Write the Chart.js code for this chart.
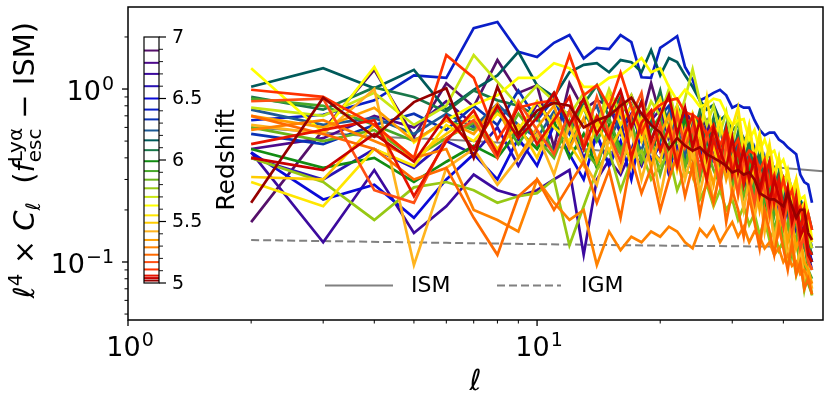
<!DOCTYPE html>
<html><head><meta charset="utf-8">
<script src="https://cdn.jsdelivr.net/npm/chart.js@4/dist/chart.umd.min.js"></script>
<style>html,body{margin:0;padding:0;background:#fff}#wrap{width:829px;height:397px;position:relative}</style>
</head><body><div id="wrap"><canvas id="c"></canvas></div>
<script>
// multipole values
const ells = [2,3,4,5,6,7,8,9,10,11,12,13,14,15,16,17,18,19,20,21,22,23,24,25,26,27,28,29,30,31,32,33,34,35,36,37,38,39,40,41,42,43,44,45,46,47];

// one series per redshift (low redshift first => drawn on top)
const s502 = [0.22,0.89,0.53,0.84,1.01,0.40,1.03,0.55,0.75,0.83, 0.80,0.60,0.66,0.70,0.80,0.89,0.72,0.62,0.56,0.45, 0.52,0.47,0.44,0.46,0.42,0.40,0.38,0.36,0.33,0.34, 0.32,0.33,0.30,0.25,0.24,0.23,0.23,0.22,0.21,0.25, 0.21,0.18,0.20,0.20,0.147,0.134];
const s504 = [0.40,0.34,0.55,0.38,0.70,0.45,0.80,0.52,0.68,0.95, 0.62,0.88,0.55,0.72,0.98,0.60,0.84,0.50,0.70,0.92, 0.55,0.78,0.46,0.66,0.40,0.60,0.44,0.35,0.52,0.33, 0.45,0.30,0.40,0.26,0.35,0.22,0.30,0.24,0.19,0.26, 0.17,0.21,0.14,0.16,0.11,0.10];
const s506 = [0.48,0.58,0.66,0.24,0.50,0.75,0.42,0.80,0.48,0.66, 0.90,0.45,0.70,0.52,0.85,0.40,0.64,0.75,0.44,0.60, 0.36,0.55,0.70,0.42,0.30,0.52,0.38,0.58,0.32,0.45, 0.28,0.40,0.35,0.24,0.31,0.38,0.22,0.30,0.20,0.27, 0.18,0.24,0.15,0.20,0.12,0.11];
const s511 = [0.99,0.90,0.62,0.40,1.57,1.16,0.51,0.78,0.83,0.86, 1.57,0.92,1.05,0.79,1.24,0.79,0.56,0.73,0.81,0.86, 0.88,0.73,0.71,0.66,0.54,0.62,0.47,0.58,0.44,0.51, 0.39,0.44,0.42,0.34,0.39,0.28,0.32,0.24,0.30,0.23, 0.26,0.19,0.21,0.16,0.19,0.153];
const s517 = [0.85,0.88,0.26,0.22,0.52,0.66,0.40,0.85,0.58,0.42, 0.75,0.48,0.90,0.55,0.38,0.70,0.95,0.45,0.62,0.35, 0.72,0.46,0.60,0.33,0.55,0.40,0.28,0.48,0.36,0.25, 0.40,0.30,0.22,0.34,0.26,0.19,0.28,0.21,0.16,0.23, 0.15,0.19,0.12,0.14,0.10,0.09];
const s523 = [0.70,0.55,0.45,0.30,0.35,0.18,0.11,0.24,0.30,0.20, 0.28,0.38,0.22,0.34,0.18,0.40,0.25,0.35,0.20,0.30, 0.42,0.24,0.36,0.19,0.30,0.22,0.33,0.17,0.26,0.20, 0.14,0.24,0.17,0.12,0.20,0.15,0.11,0.16,0.12,0.09, 0.13,0.085,0.10,0.07,0.08,0.065];
const s529 = [0.58,0.66,0.50,0.40,0.45,0.20,0.175,0.15,0.30,0.22, 0.175,0.20,0.096,0.15,0.117,0.14,0.13,0.15,0.14,0.16, 0.15,0.13,0.12,0.155,0.14,0.16,0.13,0.15,0.17,0.14, 0.16,0.13,0.15,0.14,0.12,0.13,0.11,0.12,0.10,0.11, 0.095,0.10,0.085,0.09,0.08,0.075];
const s535 = [0.70,0.60,0.78,0.50,0.66,0.55,0.82,0.40,0.60,0.80, 0.45,0.68,0.38,0.58,0.75,0.42,0.62,0.35,0.55,0.70, 0.38,0.58,0.32,0.50,0.40,0.28,0.46,0.30,0.40,0.24, 0.36,0.26,0.32,0.20,0.28,0.18,0.24,0.15,0.20,0.13, 0.17,0.12,0.14,0.10,0.09,0.075];
const s542 = [0.62,0.55,1.00,0.096,0.35,0.45,0.28,0.40,0.55,0.32, 0.62,0.38,0.28,0.52,0.34,0.58,0.30,0.48,0.24,0.42, 0.55,0.30,0.44,0.25,0.38,0.22,0.34,0.42,0.24,0.32, 0.20,0.30,0.18,0.26,0.15,0.22,0.13,0.19,0.16,0.11, 0.14,0.09,0.12,0.08,0.09,0.07];
const s549 = [0.31,0.30,0.62,0.40,0.55,0.70,0.45,0.62,0.40,0.70, 0.48,0.36,0.64,0.44,0.58,0.36,0.68,0.45,0.38,0.60, 0.34,0.52,0.40,0.58,0.33,0.48,0.30,0.44,0.50,0.30, 0.40,0.27,0.36,0.24,0.32,0.20,0.28,0.22,0.17,0.24, 0.15,0.19,0.13,0.15,0.10,0.09];
const s555 = [0.29,0.21,0.45,0.36,0.62,0.50,0.72,0.58,0.85,0.60, 0.50,0.78,0.55,0.92,0.62,0.80,0.50,0.72,0.88,0.55, 0.80,0.48,0.72,0.55,0.90,0.50,0.66,0.42,0.60,0.78, 0.45,0.62,0.40,0.55,0.36,0.48,0.32,0.40,0.28,0.34, 0.24,0.30,0.20,0.22,0.16,0.13];
const s563 = [1.32,0.56,1.34,0.49,0.66,0.81,0.92,1.16,1.16,1.41, 1.32,1.03,1.03,1.16,1.20,1.34,1.51,1.25,1.32,1.03, 0.86,0.99,0.90,0.79,0.82,0.88,0.86,0.72,0.62,0.66, 0.67,0.51,0.58,0.44,0.51,0.42,0.44,0.36,0.39,0.32, 0.26,0.30,0.23,0.24,0.19,0.134];
const s570 = [0.78,0.70,0.95,0.62,0.80,1.57,1.10,0.80,1.05,0.85, 0.70,0.95,0.62,1.00,0.72,0.92,0.60,0.85,0.70,1.00, 0.62,0.88,1.30,0.85,0.62,0.80,0.55,0.74,0.48,0.68, 0.42,0.60,0.40,0.52,0.34,0.46,0.30,0.40,0.26,0.33, 0.22,0.28,0.18,0.20,0.14,0.12];
const s577 = [0.40,0.29,0.175,0.27,0.29,0.26,0.22,0.24,0.25,0.30, 0.125,0.21,0.34,0.44,0.26,0.39,0.44,0.30,0.36,0.42, 0.26,0.34,0.32,0.23,0.28,0.21,0.26,0.20,0.23,0.175, 0.21,0.164,0.19,0.143,0.175,0.134,0.153,0.117,0.134,0.103, 0.117,0.084,0.103,0.069,0.090,0.064];
const s584 = [0.60,0.50,0.58,0.40,0.52,0.64,0.44,0.72,0.52,0.40, 0.66,0.45,0.36,0.58,0.42,0.65,0.38,0.52,0.32,0.48, 0.56,0.35,0.50,0.30,0.45,0.34,0.28,0.42,0.26,0.36, 0.24,0.31,0.20,0.27,0.18,0.24,0.15,0.20,0.13,0.17, 0.11,0.14,0.09,0.10,0.075,0.065];
const s591 = [0.88,0.80,0.62,0.50,0.66,0.58,0.75,0.48,0.70,0.42, 0.62,0.78,0.50,0.68,0.44,0.60,0.38,0.58,0.70,0.40, 0.60,0.36,0.55,0.42,0.30,0.52,0.34,0.48,0.28,0.44, 0.30,0.40,0.25,0.34,0.22,0.30,0.19,0.26,0.17,0.22, 0.14,0.18,0.12,0.13,0.09,0.08];
const s599 = [0.45,0.35,0.40,0.29,0.38,0.47,0.40,0.58,0.45,0.65, 0.40,0.55,0.35,0.62,0.46,0.40,0.68,0.44,0.58,0.36, 0.52,0.66,0.40,0.56,0.38,0.50,0.33,0.46,0.30,0.42, 0.28,0.38,0.24,0.32,0.21,0.28,0.19,0.25,0.17,0.21, 0.15,0.18,0.13,0.14,0.11,0.10];
const s608 = [0.90,0.76,1.02,0.90,0.74,0.98,0.86,0.80,0.70,0.95, 0.60,0.82,1.05,0.68,0.90,0.62,0.85,0.66,0.98,0.58, 0.80,0.62,0.52,0.75,0.48,0.68,0.45,0.62,0.40,0.56, 0.36,0.50,0.32,0.44,0.28,0.38,0.26,0.33,0.22,0.27, 0.19,0.23,0.16,0.18,0.13,0.11];
const s616 = [1.03,1.32,1.01,1.29,0.76,0.99,1.20,1.64,1.05,0.90, 1.25,1.38,1.41,1.25,1.47,1.43,1.25,1.68,1.20,1.51, 1.43,1.20,1.03,0.86,0.76,0.81,0.66,0.71,0.58,0.62, 0.51,0.54,0.44,0.47,0.39,0.42,0.34,0.36,0.30,0.32, 0.26,0.24,0.23,0.20,0.19,0.153];
const s624 = [0.76,0.62,0.68,0.55,0.72,0.60,0.82,0.62,0.52,0.74, 0.48,0.66,0.80,0.50,0.70,0.56,0.44,0.66,0.50,0.74, 0.52,0.42,0.64,0.46,0.40,0.58,0.38,0.52,0.35,0.48, 0.32,0.44,0.29,0.38,0.26,0.33,0.24,0.28,0.30,0.22, 0.20,0.24,0.17,0.18,0.14,0.12];
const s633 = [0.55,0.48,0.62,0.72,0.58,0.80,0.62,0.98,0.66,0.88, 0.55,0.78,0.62,0.95,0.56,0.82,0.66,0.50,0.70,0.80, 0.52,0.72,0.48,0.66,0.56,0.42,0.60,0.40,0.55,0.36, 0.50,0.34,0.45,0.30,0.40,0.28,0.34,0.25,0.30,0.22, 0.26,0.19,0.22,0.16,0.15,0.12];
const s641 = [0.66,0.71,0.86,1.20,1.16,2.25,2.44,1.64,1.53,1.85, 2.05,1.50,1.73,1.70,2.05,1.87,1.17,1.16,1.73,1.87, 2.02,1.34,1.13,0.86,0.90,0.95,0.99,0.92,0.78,0.81, 0.78,0.78,0.66,0.58,0.54,0.56,0.56,0.51,0.49,0.46, 0.44,0.42,0.32,0.29,0.28,0.22];
const s650 = [0.43,0.23,0.28,0.18,0.30,0.42,0.30,0.52,0.36,0.62, 0.42,0.30,0.55,0.36,0.50,0.30,0.58,0.38,0.48,0.32, 0.54,0.40,0.34,0.50,0.30,0.44,0.33,0.47,0.28,0.42, 0.30,0.24,0.36,0.22,0.32,0.20,0.28,0.22,0.18,0.24, 0.16,0.19,0.14,0.15,0.12,0.10];
const s660 = [0.40,0.30,0.45,0.35,0.50,0.42,0.60,0.36,0.56,0.44, 0.65,0.40,0.54,0.36,0.60,0.44,0.68,0.46,0.38,0.58, 0.42,0.64,0.40,0.55,0.36,0.52,0.42,0.34,0.46,0.30, 0.44,0.28,0.38,0.25,0.34,0.22,0.30,0.20,0.26,0.18, 0.22,0.16,0.17,0.13,0.12,0.10];
const s670 = [0.43,0.13,0.34,0.147,0.21,0.32,0.26,0.24,0.26,0.30, 0.34,0.11,0.30,0.39,0.32,0.44,0.36,0.51,0.44,0.39, 0.47,0.42,0.54,0.44,0.51,0.39,0.44,0.34,0.42,0.36, 0.30,0.34,0.28,0.32,0.26,0.23,0.24,0.22,0.19,0.20, 0.175,0.15,0.16,0.12,0.11,0.09];
const s679 = [0.45,0.52,0.70,0.60,0.85,0.62,0.75,0.52,0.82,0.64, 0.74,0.48,0.68,0.80,0.55,0.72,0.50,0.66,0.76,0.52, 0.70,0.46,0.64,0.50,0.62,0.42,0.58,0.46,0.38,0.52, 0.34,0.46,0.30,0.40,0.27,0.36,0.24,0.30,0.21,0.26, 0.18,0.22,0.15,0.16,0.12,0.11];
const s689 = [0.17,0.58,1.29,0.53,1.08,0.79,1.47,0.95,1.05,0.46, 1.08,0.76,0.86,0.80,0.71,0.92,0.66,1.08,0.70,0.71, 0.66,0.76,0.62,0.58,0.66,0.51,0.58,0.47,0.44,0.39, 0.47,0.42,0.36,0.39,0.34,0.32,0.30,0.26,0.24,0.21, 0.23,0.19,0.16,0.153,0.125,0.110];

const redshifts = [5.02,5.04,5.06,5.11,5.17,5.23,5.29,5.35,5.42,5.49,5.55,5.63,5.70,5.77,5.84,5.91,5.99,6.08,6.16,6.24,6.33,6.41,6.50,6.60,6.70,6.79,6.89];
const colors = ['#960000','#c80000','#e61400','#ff3200','#ff5014','#ff6a00','#ff8200','#ffa000','#ffb41e','#ffcc00','#ffe600','#ffff00','#c8e614','#96c814','#6ab41a','#46a82a','#128c12','#1a784a','#005a5a','#1e5a96','#0a32b4','#0a1ec8','#0a0ad8','#2a14b4','#3c0a9e','#4d0a8c','#55106a'];
const series = [s502,s504,s506,s511,s517,s523,s529,s535,s542,s549,s555,s563,s570,s577,s584,s591,s599,s608,s616,s624,s633,s641,s650,s660,s670,s679,s689];

// reference curves
const ismEll = [2,3,4,5,6,8,10,13,16,20,25,30,40,50];
const ismVal = [0.60,0.56,0.53,0.52,0.51,0.49,0.47,0.45,0.43,0.40,0.385,0.37,0.35,0.335];
const igmEll = [2,6,16,50];
const igmVal = [0.134,0.129,0.125,0.122];

// ticks
const xMajor = [1,10], xMajorLab = ['0','1'];
const xMinor = [2,3,4,5,6,7,8,9,20,30,40];
const yMajor = [0.1,1], yMajorLab = ['\u22121','0'];
const yMinor = [0.05,0.06,0.07,0.08,0.09,0.2,0.3,0.4,0.5,0.6,0.7,0.8,0.9,2];
const cbTicks = [5,5.5,6,6.5,7], cbTickLab = ['5','5.5','6','6.5','7'];

const FF = '"DejaVu Sans", sans-serif';
const datasets = series.map((s,i)=>({
  label:'z='+redshifts[i], data: ells.map((l,j)=>({x:l,y:s[j]})),
  borderColor: colors[i], borderWidth: 2.7, pointRadius:0, fill:false, tension:0
}));
datasets.push({label:'ISM', data: ismEll.map((l,j)=>({x:l,y:ismVal[j]})), borderColor:'#808080', borderWidth:2, pointRadius:0, fill:false});
datasets.push({label:'IGM', data: igmEll.map((l,j)=>({x:l,y:igmVal[j]})), borderColor:'#808080', borderWidth:2, borderDash:[8,4], pointRadius:0, fill:false});

function pow10(ctx, exp, x, y, align){
  ctx.font = '27px '+FF; const w1 = ctx.measureText('10').width;
  ctx.font = '19px '+FF; const w2 = ctx.measureText(exp).width;
  const tot = w1 + w2 + 1;
  const x0 = align==='right' ? x - tot : (align==='center' ? x - tot/2 : x);
  ctx.textAlign='left'; ctx.textBaseline='alphabetic';
  ctx.font = '27px '+FF; ctx.fillText('10', x0, y);
  ctx.font = '19px '+FF; ctx.fillText(exp, x0 + w1 + 1, y - 10);
}

const deco = {
  id:'deco',
  afterDraw(chart){
    const ctx = chart.ctx, a = chart.chartArea, X = chart.scales.x, Y = chart.scales.y;
    ctx.save();
    ctx.fillStyle='#000'; ctx.strokeStyle='#000';
    const seg=(x1,y1,x2,y2)=>{ctx.beginPath();ctx.moveTo(x1,y1);ctx.lineTo(x2,y2);ctx.stroke();};
    // frame
    ctx.lineWidth=1.5; ctx.strokeRect(a.left,a.top,a.right-a.left,a.bottom-a.top);
    // ticks
    ctx.lineWidth=1.3;
    xMajor.forEach(v=>{const p=X.getPixelForValue(v); seg(p,a.bottom,p,a.bottom+6);});
    yMajor.forEach(v=>{const p=Y.getPixelForValue(v); seg(a.left,p,a.left-6,p);});
    ctx.lineWidth=1;
    xMinor.forEach(v=>{const p=X.getPixelForValue(v); seg(p,a.bottom,p,a.bottom+3.5);});
    yMinor.forEach(v=>{const p=Y.getPixelForValue(v); seg(a.left,p,a.left-3.5,p);});
    // tick labels
    xMajor.forEach((v,i)=>pow10(ctx, xMajorLab[i], X.getPixelForValue(v)+2, a.bottom+36, 'center'));
    yMajor.forEach((v,i)=>pow10(ctx, yMajorLab[i], a.left-14, Y.getPixelForValue(v)+11, 'right'));
    // x title
    ctx.font='italic 29px '+FF; ctx.textAlign='center'; ctx.textBaseline='alphabetic';
    ctx.fillText('\u2113', (a.left+a.right)/2, 390);
    // y title (rotated runs)
    const runs = [
      {t:'\u2113', f:'italic 29px '+FF},
      {t:'4', f:'20px '+FF, dy:-12},
      {t:' \u00d7 ', f:'29px '+FF},
      {t:'C', f:'italic 29px '+FF},
      {t:'\u2113', f:'italic 20px '+FF, dy:6},
      {t:'  (', f:'29px '+FF},
      {t:'f', f:'italic 29px '+FF},
      {t:'Ly\u03b1', f:'20px '+FF, dy:-12, t2:'esc', f2:'20px '+FF, dy2:7},
      {t:' \u2212 ISM)', f:'29px '+FF}
    ];
    let tot=0;
    runs.forEach(r=>{ctx.font=r.f; let w=ctx.measureText(r.t).width; if(r.t2){ctx.font=r.f2; w=Math.max(w,ctx.measureText(r.t2).width);} r.w=w; tot+=w;});
    ctx.save(); ctx.translate(34, 160 + tot/2); ctx.rotate(-Math.PI/2);
    ctx.textAlign='left'; ctx.textBaseline='alphabetic';
    let pos=0;
    runs.forEach(r=>{ctx.font=r.f; ctx.fillText(r.t,pos,r.dy||0); if(r.t2){ctx.font=r.f2; ctx.fillText(r.t2,pos,r.dy2);} pos+=r.w;});
    ctx.restore();

    // colorbar
    const cbL=144, cbR=159, cbT=37, cbB=283;
    const zp = z => cbB - (z-5)/2*(cbB-cbT);
    ctx.fillStyle='#fff'; ctx.fillRect(cbL,cbT,cbR-cbL,cbB-cbT);
    redshifts.forEach((z,i)=>{ctx.fillStyle=colors[i]; ctx.fillRect(cbL, zp(z)-1, cbR-cbL, 2);});
    ctx.strokeStyle='#000'; ctx.lineWidth=1.2; ctx.strokeRect(cbL,cbT,cbR-cbL,cbB-cbT);
    for(let k=0;k<=20;k++){const z=5+k*0.1; const p=zp(z); const major=(k%5===0);
      ctx.lineWidth=major?1.2:0.9; seg(cbR,p,cbR+(major?7:4),p);}
    ctx.fillStyle='#000'; ctx.font='19px '+FF; ctx.textAlign='left'; ctx.textBaseline='middle';
    cbTicks.forEach((z,i)=>ctx.fillText(cbTickLab[i], 172, zp(z)+1));
    ctx.save(); ctx.translate(234,160); ctx.rotate(-Math.PI/2);
    ctx.font='25px '+FF; ctx.textAlign='center'; ctx.textBaseline='alphabetic';
    ctx.fillText('Redshift',0,0); ctx.restore();

    // legend
    const n = chart.data.datasets.length;
    const ism = chart.data.datasets[n-2], igm = chart.data.datasets[n-1];
    ctx.strokeStyle=ism.borderColor; ctx.lineWidth=2; ctx.setLineDash([]);
    seg(325,285.5,393,285.5);
    ctx.setLineDash(igm.borderDash); seg(497,285.5,561,285.5); ctx.setLineDash([]);
    ctx.fillStyle='#000'; ctx.font='22px '+FF; ctx.textAlign='left'; ctx.textBaseline='middle';
    ctx.fillText(ism.label, 411, 286); ctx.fillText(igm.label, 581, 286);
    ctx.restore();
  }
};

new Chart(document.getElementById('c'), {
  type:'line',
  data:{datasets},
  options:{
    responsive:true, maintainAspectRatio:false, animation:false,
    layout:{padding:{left:128,right:6,top:7,bottom:77}},
    plugins:{legend:{display:false}, tooltip:{enabled:false}},
    scales:{
      x:{type:'logarithmic', min:1, max:50, display:false},
      y:{type:'logarithmic', min:0.0462, max:2.98, display:false}
    }
  },
  plugins:[deco]
});
</script></body></html>
